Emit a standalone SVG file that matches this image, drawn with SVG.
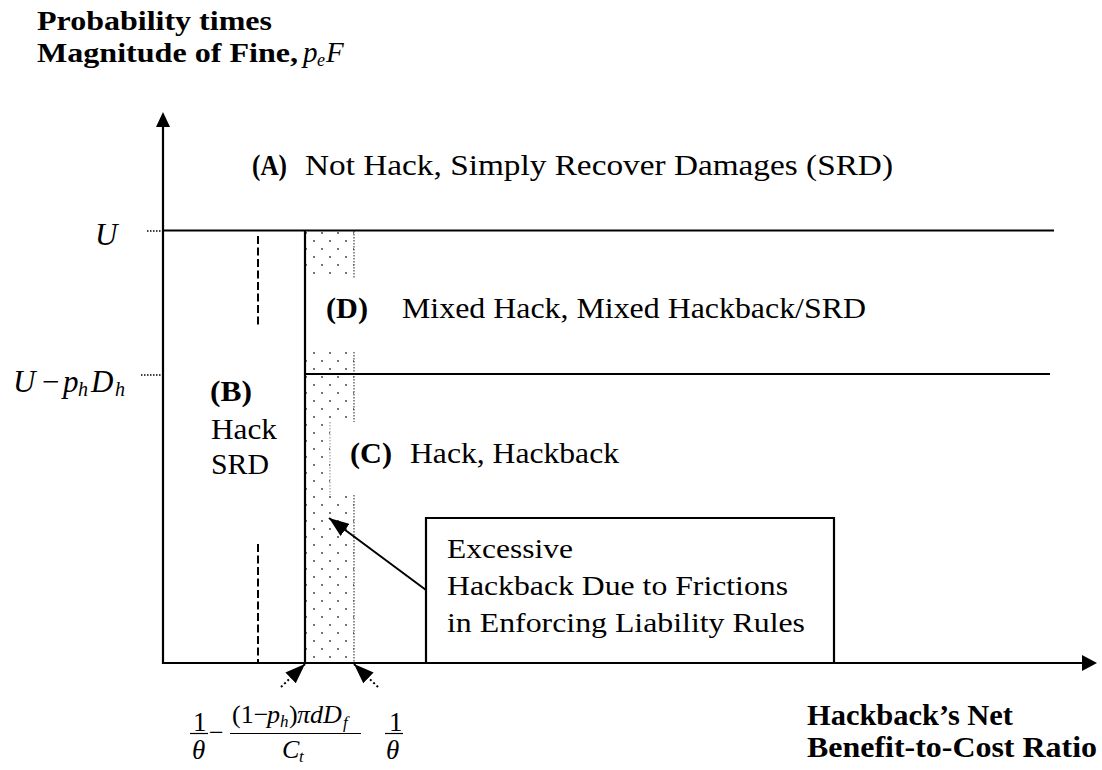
<svg xmlns="http://www.w3.org/2000/svg" width="1102" height="770" viewBox="0 0 1102 770">
<style>
  .t { font-family: "Liberation Serif", "Times New Roman", serif; fill: #000; }
  .b { font-weight: bold; }
  .i { font-style: italic; }
  .ln { stroke: #000; stroke-width: 2.2; fill: none; }
  .dash { stroke: #000; stroke-width: 2; stroke-dasharray: 8 3.5; fill: none; }
  .lead { stroke: #000; stroke-width: 1.5; stroke-dasharray: 1.5 1.5; fill: none; }
  .dotb { stroke: #555; stroke-width: 1.3; stroke-dasharray: 1.5 1.5; fill: none; }
  .ptr { stroke: #000; stroke-width: 2; stroke-dasharray: 2 2.5; fill: none; }
  .bar { stroke: #000; stroke-width: 1.2; }
</style>
<defs>
  <pattern id="dots" patternUnits="userSpaceOnUse" x="305" y="232" width="16" height="16">
    <circle cx="1" cy="1" r="0.9" fill="#333"/>
    <circle cx="9" cy="9" r="0.9" fill="#333"/>
  </pattern>
  <marker id="ah" viewBox="0 0 10 10" refX="10" refY="5" markerUnits="userSpaceOnUse" markerWidth="20" markerHeight="15" preserveAspectRatio="none" orient="auto">
    <path d="M0,0 L10,5 L0,10 Z" fill="#000" stroke="none"/>
  </marker>
</defs>
<rect width="1102" height="770" fill="#fff"/>

<g id="shaded-region">
  <rect x="306" y="231" width="48" height="48" fill="url(#dots)"/>
  <rect x="306" y="352" width="48" height="70" fill="url(#dots)"/>
  <rect x="306" y="422" width="24" height="73" fill="url(#dots)"/>
  <rect x="306" y="495" width="48" height="168" fill="url(#dots)"/>
  <line class="dotb" x1="354" y1="231" x2="354" y2="279"/>
  <line class="dotb" x1="354" y1="352" x2="354" y2="422"/>
  <line class="dotb" x1="330" y1="422" x2="330" y2="495" stroke-opacity="0.5"/>
  <line class="dotb" x1="354" y1="495" x2="354" y2="663"/>
</g>

<g id="connectors">
  <line class="ln" x1="163" y1="664" x2="163" y2="124"/>
  <polygon points="163,112 156,127 170,127" fill="#000"/>
  <line class="ln" x1="162" y1="663" x2="1084" y2="663"/>
  <polygon points="1097,663 1082,655 1082,671" fill="#000"/>
  <line class="ln" x1="163" y1="230.5" x2="1054" y2="230.5"/>
  <line class="ln" x1="305" y1="374" x2="1050" y2="374"/>
  <line class="ln" x1="305" y1="230" x2="305" y2="663"/>
  <line class="dash" x1="258" y1="236" x2="258" y2="327"/>
  <line class="dash" x1="258" y1="544" x2="258" y2="663"/>
  <line class="lead" x1="147" y1="231" x2="163" y2="231"/>
  <line class="lead" x1="141" y1="375" x2="163" y2="375"/>
  <line x1="426" y1="590" x2="329" y2="518" stroke="#000" stroke-width="2" marker-end="url(#ah)"/>
  <line class="ptr" x1="281" y1="687" x2="305" y2="664" marker-end="url(#ah)"/>
  <line class="ptr" x1="378" y1="687" x2="354" y2="664" marker-end="url(#ah)"/>
</g>

<g id="y-axis-title">
  <text class="t b" x="37" y="30" font-size="27" textLength="235" lengthAdjust="spacingAndGlyphs">Probability times</text>
  <text class="t b" x="37" y="62" font-size="27" textLength="261" lengthAdjust="spacingAndGlyphs">Magnitude of Fine,</text>
  <text class="t i" font-size="29"><tspan x="303" y="62">p</tspan><tspan x="317" y="66" font-size="18">e</tspan><tspan x="326" y="62">F</tspan></text>
</g>

<g id="x-axis-title">
  <text class="t b" x="807" y="725" font-size="29" textLength="206" lengthAdjust="spacingAndGlyphs">Hackback’s Net</text>
  <text class="t b" x="807" y="757" font-size="29" textLength="290" lengthAdjust="spacingAndGlyphs">Benefit-to-Cost Ratio</text>
</g>

<g id="label-U">
  <text class="t i" x="95" y="245" font-size="31">U</text>
</g>

<g id="label-U-minus">
  <text class="t" font-size="31"><tspan class="i" x="13" y="392">U</tspan><tspan x="42" y="392">−</tspan><tspan class="i" x="63" y="392">p</tspan><tspan class="i" x="78" y="396" font-size="20">h</tspan><tspan class="i" x="91" y="392">D</tspan><tspan class="i" x="115" y="396" font-size="20">h</tspan></text>
</g>

<g id="region-A">
  <text class="t b" x="252" y="175" font-size="29" textLength="35" lengthAdjust="spacingAndGlyphs">(A)</text>
  <text class="t" x="305" y="175" font-size="29" textLength="588" lengthAdjust="spacingAndGlyphs">Not Hack, Simply Recover Damages (SRD)</text>
</g>

<g id="region-D">
  <text class="t b" x="326" y="318" font-size="29" textLength="42" lengthAdjust="spacingAndGlyphs">(D)</text>
  <text class="t" x="402" y="318" font-size="29" textLength="464" lengthAdjust="spacingAndGlyphs">Mixed Hack, Mixed Hackback/SRD</text>
</g>

<g id="region-C">
  <text class="t b" x="350" y="463" font-size="29" textLength="42" lengthAdjust="spacingAndGlyphs">(C)</text>
  <text class="t" x="410" y="463" font-size="29" textLength="209" lengthAdjust="spacingAndGlyphs">Hack, Hackback</text>
</g>

<g id="region-B">
  <text class="t b" x="210" y="401" font-size="29" textLength="42" lengthAdjust="spacingAndGlyphs">(B)</text>
  <text class="t" x="211" y="439" font-size="29" textLength="66" lengthAdjust="spacingAndGlyphs">Hack</text>
  <text class="t" x="211" y="474" font-size="29" textLength="58" lengthAdjust="spacingAndGlyphs">SRD</text>
</g>

<g id="callout-box">
  <path class="ln" d="M426,663 V518 H834 V663"/>
  <text class="t" x="447" y="558" font-size="28" textLength="126" lengthAdjust="spacingAndGlyphs">Excessive</text>
  <text class="t" x="447" y="595" font-size="28" textLength="341" lengthAdjust="spacingAndGlyphs">Hackback Due to Frictions</text>
  <text class="t" x="447" y="632" font-size="28" textLength="358" lengthAdjust="spacingAndGlyphs">in Enforcing Liability Rules</text>
</g>

<g id="label-threshold-low">
  <text class="t" x="193" y="731" font-size="27">1</text>
  <line class="bar" x1="190" y1="733.5" x2="208" y2="733.5"/>
  <text class="t i" x="192" y="759" font-size="27">θ</text>
  <text class="t" x="209" y="741" font-size="26">−</text>
  <text class="t" font-size="26"><tspan x="232" y="723">(1−</tspan><tspan class="i" x="267" y="723">p</tspan><tspan class="i" x="280" y="727" font-size="17">h</tspan><tspan x="289" y="723">)</tspan><tspan class="i" x="297" y="723">πdD</tspan><tspan class="i" x="343" y="728" font-size="17">f</tspan></text>
  <line class="bar" x1="230" y1="733.5" x2="361" y2="733.5"/>
  <text class="t i" font-size="26"><tspan x="282" y="758">C</tspan><tspan x="299" y="762" font-size="17">t</tspan></text>
</g>

<g id="label-threshold-high">
  <text class="t" x="389" y="731" font-size="27">1</text>
  <line class="bar" x1="385" y1="733.5" x2="403" y2="733.5"/>
  <text class="t i" x="386" y="759" font-size="27">θ</text>
</g>
</svg>
